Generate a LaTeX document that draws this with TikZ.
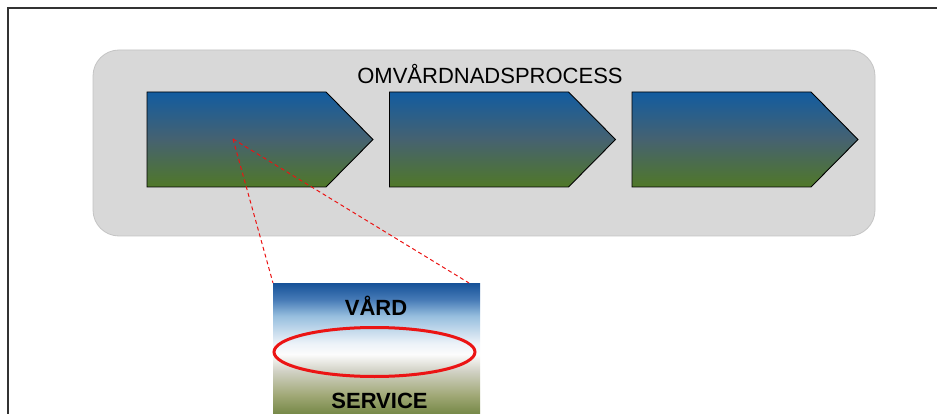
\documentclass[tikz,border=0pt]{standalone}
\usepackage{fontspec}
\setmainfont{Liberation Sans}
\usetikzlibrary{shapes.geometric}

\definecolor{stepblue}{RGB}{18,92,160}
\definecolor{stepmid}{RGB}{70,98,112}
\definecolor{stepgreen}{RGB}{80,120,40}
\definecolor{panelgray}{RGB}{216,216,216}
\definecolor{paneledge}{RGB}{196,196,196}
\definecolor{framegray}{RGB}{50,50,50}
\definecolor{zoomred}{RGB}{235,20,20}

\definecolor{zA}{RGB}{22,82,152}
\definecolor{zB}{RGB}{70,122,182}
\definecolor{zC}{RGB}{150,190,222}
\definecolor{zD}{RGB}{236,242,248}
\definecolor{zE}{RGB}{252,252,252}
\definecolor{zF}{RGB}{210,210,198}
\definecolor{zG}{RGB}{160,168,118}
\definecolor{zH}{RGB}{104,126,56}

% process step: blue on top, green at the bottom
\pgfdeclareverticalshading{stepshade}{100bp}{%
  color(0bp)=(stepgreen); color(25bp)=(stepgreen);
  color(50bp)=(stepmid); color(75bp)=(stepblue); color(100bp)=(stepblue)}
% magnified step: blue sky, white band, olive ground
\pgfdeclareverticalshading{zoomshade}{100bp}{%
  color(0bp)=(zH); color(25bp)=(zH); color(34bp)=(zG); color(43bp)=(zF);
  color(49bp)=(zE); color(53bp)=(zD); color(63bp)=(zC); color(69bp)=(zB);
  color(75bp)=(zA); color(100bp)=(zA)}

\tikzset{
  stepbox/.style={shading=stepshade, draw=black, line width=0.9pt},
  panel/.style={fill=panelgray, draw=paneledge, line width=0.8pt, rounded corners=26pt},
  zoombox/.style={shading=zoomshade},
  zoomline/.style={draw=zoomred, line width=1pt, dash pattern=on 4pt off 3pt},
  caption/.style={font=\fontsize{22}{26}\selectfont, text=black, anchor=base, inner sep=0pt},
  zoomcaption/.style={caption, font=\fontsize{22}{26}\selectfont\bfseries},
}

\begin{document}
\begin{tikzpicture}[x=1pt,y=1pt]
  \useasboundingbox (0,0) rectangle (937,-414);
  \fill[white] (0,0) rectangle (937,-414);

  % outer frame (left and top edges)
  \draw[framegray, line width=2.5pt] (8,-414) -- (8,-8) -- (937,-8);

  % process panel
  \path[panel] (93,-50) rectangle (875,-236);
  \node[caption] (title) at (490,-84) {OMVÅRDNADSPROCESS};

  % three process steps
  \foreach \dx/\nm in {0/s1, 242.5/s2, 485/s3} {
    \path[stepbox] (147+\dx,-92) -- (326+\dx,-92) -- (373+\dx,-139.5)
                   -- (326+\dx,-187) -- (147+\dx,-187) -- cycle;
    \coordinate (\nm) at (233+\dx,-139);
  }

  % magnified view of the first step
  \path[zoombox] (273,-283) rectangle (480,-420);
  \coordinate (zl) at (273,-283);
  \coordinate (zr) at (469,-283);
  \node[zoomcaption] (vard) at (376,-315) {VÅRD};
  \node[zoomcaption] (service) at (379.5,-408) {SERVICE};
  \node[draw=zoomred, line width=3pt, ellipse, minimum width=201pt, minimum height=49pt,
        inner sep=0pt] (focus) at (374.5,-352) {};

  \path[zoomline] (s1) -- (zl);
  \path[zoomline] (s1) -- (zr);
\end{tikzpicture}
\end{document}
